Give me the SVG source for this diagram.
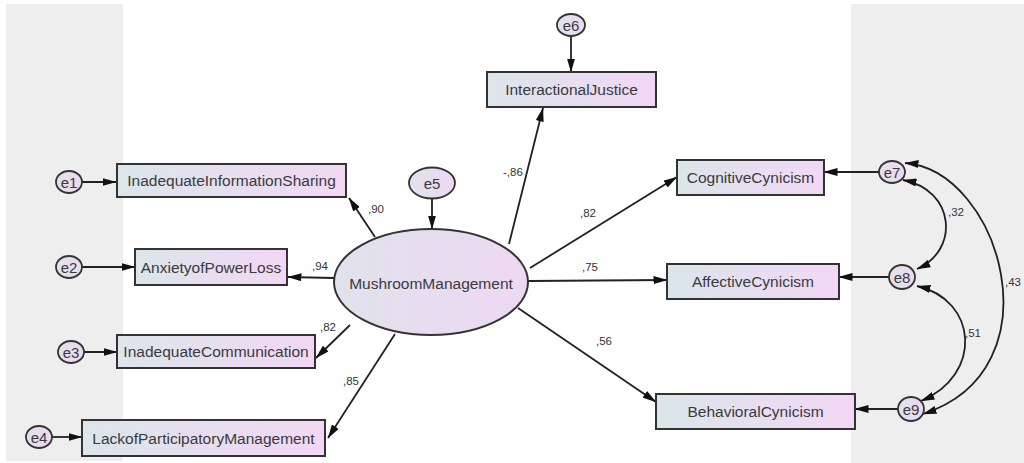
<svg xmlns="http://www.w3.org/2000/svg" width="1024" height="463" viewBox="0 0 1024 463">
<style>
.box{fill:url(#gb);stroke:#333;stroke-width:2}
.err{fill:url(#ge);stroke:#333;stroke-width:1.8}
.t{font-family:"Liberation Sans",Arial,sans-serif;font-size:15.5px;fill:#3a3a3a;text-anchor:middle;dominant-baseline:central}
.et{font-family:"Liberation Sans",Arial,sans-serif;font-size:15px;fill:#3a3a3a;text-anchor:middle;dominant-baseline:central}
.lb{font-family:"Liberation Sans",Arial,sans-serif;font-size:11.5px;fill:#333}
.c{fill:none;stroke:#222;stroke-width:1.8;marker-end:url(#ah)}
.cv{fill:none;stroke:#222;stroke-width:1.8;marker-end:url(#ah);marker-start:url(#ah)}
</style>
<defs>
<linearGradient id="gb" x1="0" x2="1" y1="0" y2="0"><stop offset="0" stop-color="#dbe6ea"/><stop offset="1" stop-color="#f2d7f5"/></linearGradient>
<linearGradient id="ge" x1="0" x2="1" y1="0" y2="0"><stop offset="0" stop-color="#e0e2ec"/><stop offset="1" stop-color="#eed8f2"/></linearGradient>
<marker id="ah" viewBox="0 0 14 8" refX="13.5" refY="4" markerWidth="14" markerHeight="8" markerUnits="userSpaceOnUse" orient="auto-start-reverse"><path d="M0,0 L14,4 L0,8 z" fill="#111"/></marker>
</defs>
<rect x="0" y="0" width="1024" height="463" fill="#fff"/>
<rect x="6" y="4" width="117" height="457" fill="#eeeeee"/>
<rect x="851" y="4" width="173" height="459" fill="#eeeeee"/>

<g id="connectors">
<line class="c" x1="82" y1="182" x2="116" y2="182"/>
<line class="c" x1="82" y1="267" x2="135" y2="267"/>
<line class="c" x1="84" y1="352" x2="117" y2="352"/>
<line class="c" x1="52" y1="437" x2="82" y2="437"/>
<line class="c" x1="571" y1="36" x2="571" y2="72"/>
<line class="c" x1="432" y1="198" x2="432" y2="229"/>
<line class="c" x1="375" y1="237" x2="349" y2="198"/>
<line class="c" x1="334" y1="278" x2="288" y2="277"/>
<line class="c" x1="350" y1="325" x2="316" y2="358"/>
<line class="c" x1="395" y1="334" x2="328" y2="438"/>
<line class="c" x1="509" y1="244" x2="543" y2="108"/>
<line class="c" x1="530" y1="268" x2="677" y2="177"/>
<line class="c" x1="528" y1="281" x2="667" y2="280"/>
<line class="c" x1="518" y1="308" x2="656" y2="402"/>
<line class="c" x1="879" y1="172" x2="824" y2="172"/>
<line class="c" x1="889" y1="277" x2="839" y2="277"/>
<line class="c" x1="898" y1="409" x2="855" y2="409"/>
<path class="cv" d="M903 180 C955 190, 960 250, 917 269"/>
<path class="cv" d="M917 286 C978 300, 983 375, 921 401"/>
<path class="cv" d="M905 163 C1000 170, 1060 370, 923 414"/>
<text class="lb" x="368" y="213">,90</text>
<text class="lb" x="312" y="270">,94</text>
<text class="lb" x="320" y="331">,82</text>
<text class="lb" x="343" y="385">,85</text>
<text class="lb" x="503" y="176">-,86</text>
<text class="lb" x="580" y="217">,82</text>
<text class="lb" x="582" y="271">,75</text>
<text class="lb" x="596" y="345">,56</text>
<text class="lb" x="948" y="216">,32</text>
<text class="lb" x="1005" y="286">,43</text>
<text class="lb" x="965" y="337">,51</text>
</g>

<g id="e1"><ellipse class="err" cx="69" cy="182" rx="13" ry="11"/><text class="et" x="69" y="182">e1</text></g>
<g id="e2"><ellipse class="err" cx="69" cy="267" rx="13" ry="11"/><text class="et" x="69" y="267">e2</text></g>
<g id="e3"><ellipse class="err" cx="71" cy="352" rx="13" ry="11"/><text class="et" x="71" y="352">e3</text></g>
<g id="e4"><ellipse class="err" cx="39" cy="437" rx="13" ry="11"/><text class="et" x="39" y="437">e4</text></g>
<g id="e5"><ellipse class="err" cx="432" cy="183" rx="23" ry="15.5"/><text class="et" x="432" y="183">e5</text></g>
<g id="e6"><ellipse class="err" cx="571" cy="25" rx="14" ry="11"/><text class="et" x="571" y="25">e6</text></g>
<g id="e7"><ellipse class="err" cx="892" cy="172" rx="13" ry="11"/><text class="et" x="892" y="172">e7</text></g>
<g id="e8"><ellipse class="err" cx="902" cy="277" rx="13" ry="12"/><text class="et" x="902" y="277">e8</text></g>
<g id="e9"><ellipse class="err" cx="911" cy="409" rx="13" ry="12"/><text class="et" x="911" y="409">e9</text></g>

<g id="InadequateInformationSharing"><rect class="box" x="117" y="164" width="229" height="33"/><text class="t" x="231.5" y="180.5">InadequateInformationSharing</text></g>
<g id="AnxietyofPowerLoss"><rect class="box" x="135" y="249" width="152" height="36"/><text class="t" x="211" y="267">AnxietyofPowerLoss</text></g>
<g id="InadequateCommunication"><rect class="box" x="117" y="335" width="198" height="33"/><text class="t" x="216" y="351.5">InadequateCommunication</text></g>
<g id="LackofParticipatoryManagement"><rect class="box" x="82" y="420" width="243" height="36"/><text class="t" x="203.5" y="438">LackofParticipatoryManagement</text></g>
<g id="InteractionalJustice"><rect class="box" x="487" y="72" width="169" height="35"/><text class="t" x="571.5" y="89.5">InteractionalJustice</text></g>
<g id="CognitiveCynicism"><rect class="box" x="677" y="160" width="147" height="35"/><text class="t" x="750.5" y="177.5">CognitiveCynicism</text></g>
<g id="AffectiveCynicism"><rect class="box" x="667" y="264" width="172" height="35"/><text class="t" x="753" y="281.5">AffectiveCynicism</text></g>
<g id="BehavioralCynicism"><rect class="box" x="656" y="394" width="199" height="35"/><text class="t" x="755.5" y="411.5">BehavioralCynicism</text></g>
<g id="MushroomManagement"><ellipse cx="431" cy="282" rx="97" ry="53" fill="url(#ge)" stroke="#333" stroke-width="2"/><text class="t" x="431" y="283">MushroomManagement</text></g>
</svg>
